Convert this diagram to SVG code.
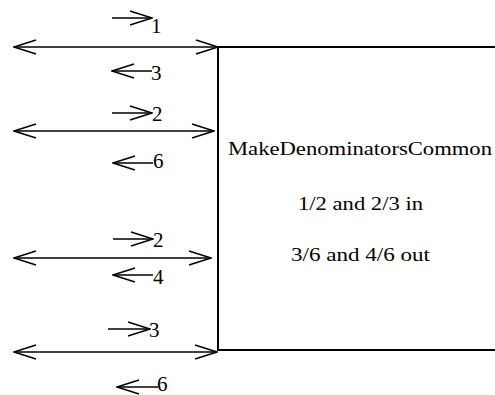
<svg xmlns="http://www.w3.org/2000/svg" width="495" height="395" viewBox="0 0 495 395">
<style>
.c{stroke:#000;stroke-width:1.4;fill:none}
.b{stroke:#000;stroke-width:2;fill:#fff}
.t{font-family:"Liberation Serif","Times New Roman",serif;font-size:19px;fill:#000}
.s{font-family:"Liberation Serif","Times New Roman",serif;font-size:21px;fill:#000}
</style>
<defs>
<marker id="h" markerUnits="userSpaceOnUse" markerWidth="24" markerHeight="16" viewBox="-1 -1 24 16" refX="22" refY="7" orient="auto-start-reverse">
<path d="M0,0 L22,7 L0,14" fill="none" stroke="#000" stroke-width="1.4"/>
</marker>
<marker id="g" markerUnits="userSpaceOnUse" markerWidth="24" markerHeight="16" viewBox="-1 -1 24 16" refX="22" refY="7" orient="auto">
<path d="M0,0 L22,7 L0,14" fill="none" stroke="#000" stroke-width="1.4"/>
</marker>
</defs>
<g id="box">
<path class="b" d="M497,47 L218,47 L218,350 L497,350"/>
<text class="t" x="360" y="155" text-anchor="middle" textLength="264" lengthAdjust="spacingAndGlyphs">MakeDenominatorsCommon</text>
<text class="t" x="360.5" y="210" text-anchor="middle" textLength="125" lengthAdjust="spacingAndGlyphs">1/2 and 2/3 in</text>
<text class="t" x="360.5" y="261" text-anchor="middle" textLength="139" lengthAdjust="spacingAndGlyphs">3/6 and 4/6 out</text>
</g>
<g id="connectors">
<line class="c" x1="14" y1="47" x2="218" y2="47" marker-start="url(#h)" marker-end="url(#h)"/>
<line class="c" x1="14" y1="131" x2="214" y2="131" marker-start="url(#h)" marker-end="url(#h)"/>
<line class="c" x1="14" y1="258" x2="211" y2="258" marker-start="url(#h)" marker-end="url(#h)"/>
<line class="c" x1="14" y1="352" x2="217" y2="352" marker-start="url(#h)" marker-end="url(#h)"/>
<line class="c" x1="112" y1="18" x2="152" y2="18" marker-end="url(#g)"/>
<line class="c" x1="152" y1="71" x2="112" y2="71" marker-end="url(#g)"/>
<line class="c" x1="112" y1="113" x2="152" y2="113" marker-end="url(#g)"/>
<line class="c" x1="153" y1="163" x2="113" y2="163" marker-end="url(#g)"/>
<line class="c" x1="113" y1="239" x2="153" y2="239" marker-end="url(#g)"/>
<line class="c" x1="153" y1="275" x2="113" y2="275" marker-end="url(#g)"/>
<line class="c" x1="108" y1="329" x2="150" y2="329" marker-end="url(#g)"/>
<line class="c" x1="158" y1="387" x2="117" y2="387" marker-end="url(#g)"/>
</g>
<g id="labels">
<text class="s" x="151" y="33">1</text>
<text class="s" x="151" y="80">3</text>
<text class="s" x="152" y="121">2</text>
<text class="s" x="153" y="168">6</text>
<text class="s" x="153" y="247">2</text>
<text class="s" x="153" y="284">4</text>
<text class="s" x="149" y="337">3</text>
<text class="s" x="157" y="391">6</text>
</g>
</svg>
